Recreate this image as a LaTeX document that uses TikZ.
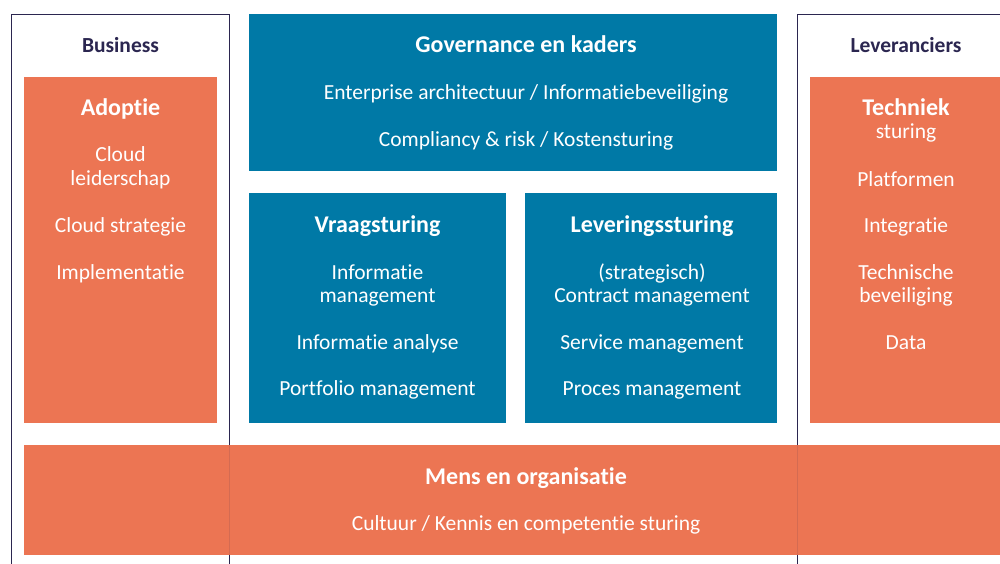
\documentclass[tikz,border=0pt]{standalone}
\usepackage{fontspec}
\setmainfont[Ligatures=NoCommon]{Carlito}
\definecolor{org}{HTML}{EC7553}
\definecolor{blu}{HTML}{0079A6}
\definecolor{navy}{HTML}{2B2650}
\tikzset{
  frame/.style={draw=navy, line width=1.3pt},
  obox/.style={fill=org, inner sep=0pt, outer sep=0pt, minimum width=#1},
  bbox/.style={fill=blu, inner sep=0pt, outer sep=0pt, minimum width=#1},
  hd/.style={anchor=base, inner sep=0pt, yshift=-1pt, text=navy, font=\fontsize{21.5}{24}\selectfont\bfseries},
  tt/.style={anchor=base, inner sep=0pt, yshift=-1pt, text=white, font=\fontsize{24}{27}\selectfont\bfseries},
  bt/.style={anchor=base, inner sep=0pt, yshift=-1pt, text=white, font=\fontsize{21.5}{24}\selectfont},
}
\begin{document}
\begin{tikzpicture}[x=1pt,y=-1pt]
\useasboundingbox (0,0) rectangle (1000,564);
% frames
\draw[frame] (11.5,564) -- (11.5,14.5) -- (229.5,14.5) -- (229.5,564);
\draw[frame] (797.5,564) -- (797.5,14.5) -- (1001,14.5);
% boxes
\node[obox=193pt, minimum height=346pt] (adopt) at (120.5,250) {};
\node[obox=190pt, minimum height=346pt] (tech) at (905,250) {};
\node[bbox=528pt, minimum height=157pt] (gov) at (513,92.5) {};
\node[bbox=257pt, minimum height=230pt] (vraag) at (377.5,308) {};
\node[bbox=252pt, minimum height=230pt] (lever) at (651,308) {};
\node[obox=976pt, minimum height=110pt] (mens) at (512,500) {};
% frame lines faintly visible through bottom box
\draw[frame, opacity=0.12] (229.5,445) -- (229.5,555);
\draw[frame, opacity=0.12] (797.5,445) -- (797.5,555);
% headers
\node[hd] (h1) at (120.5,52) {Business};
\node[hd] (h2) at (906,52) {Leveranciers};
% Adoptie
\node[tt] (a0) at (120.5,115) {Adoptie};
\node[bt] (a1) at (120.5,161) {Cloud};
\node[bt] (a2) at (120.5,184.5) {leiderschap};
\node[bt] (a3) at (120.5,231) {Cloud strategie};
\node[bt] (a4) at (120.5,278) {Implementatie};
% Techniek
\node[tt] (t0) at (906,115) {Techniek};
\node[bt] (t1) at (906,138) {sturing};
\node[bt] (t2) at (906,185) {Platformen};
\node[bt] (t3) at (906,231) {Integratie};
\node[bt] (t4) at (906,278) {Technische};
\node[bt] (t5) at (906,301.5) {beveiliging};
\node[bt] (t6) at (906,348) {Data};
% Governance
\node[tt] (g0) at (526,52) {Governance en kaders};
\node[bt] (g1) at (526,99) {Enterprise architectuur / Informatiebeveiliging};
\node[bt] (g2) at (526,146) {Compliancy \& risk / Kostensturing};
% Vraagsturing
\node[tt] (v0) at (377.5,231) {Vraagsturing};
\node[bt] (v1) at (377.5,278) {Informatie};
\node[bt] (v2) at (377.5,301.5) {management};
\node[bt] (v3) at (377.5,348) {Informatie analyse};
\node[bt] (v4) at (377.5,394) {Portfolio management};
% Leveringssturing
\node[tt] (l0) at (652,231) {Leveringssturing};
\node[bt] (l1) at (652,278) {(strategisch)};
\node[bt] (l2) at (652,301.5) {Contract management};
\node[bt] (l3) at (652,348) {Service management};
\node[bt] (l4) at (652,394) {Proces management};
% Mens
\node[tt] (m0) at (526,483) {Mens en organisatie};
\node[bt] (m1) at (526,529) {Cultuur / Kennis en competentie sturing};
\end{tikzpicture}
\end{document}
